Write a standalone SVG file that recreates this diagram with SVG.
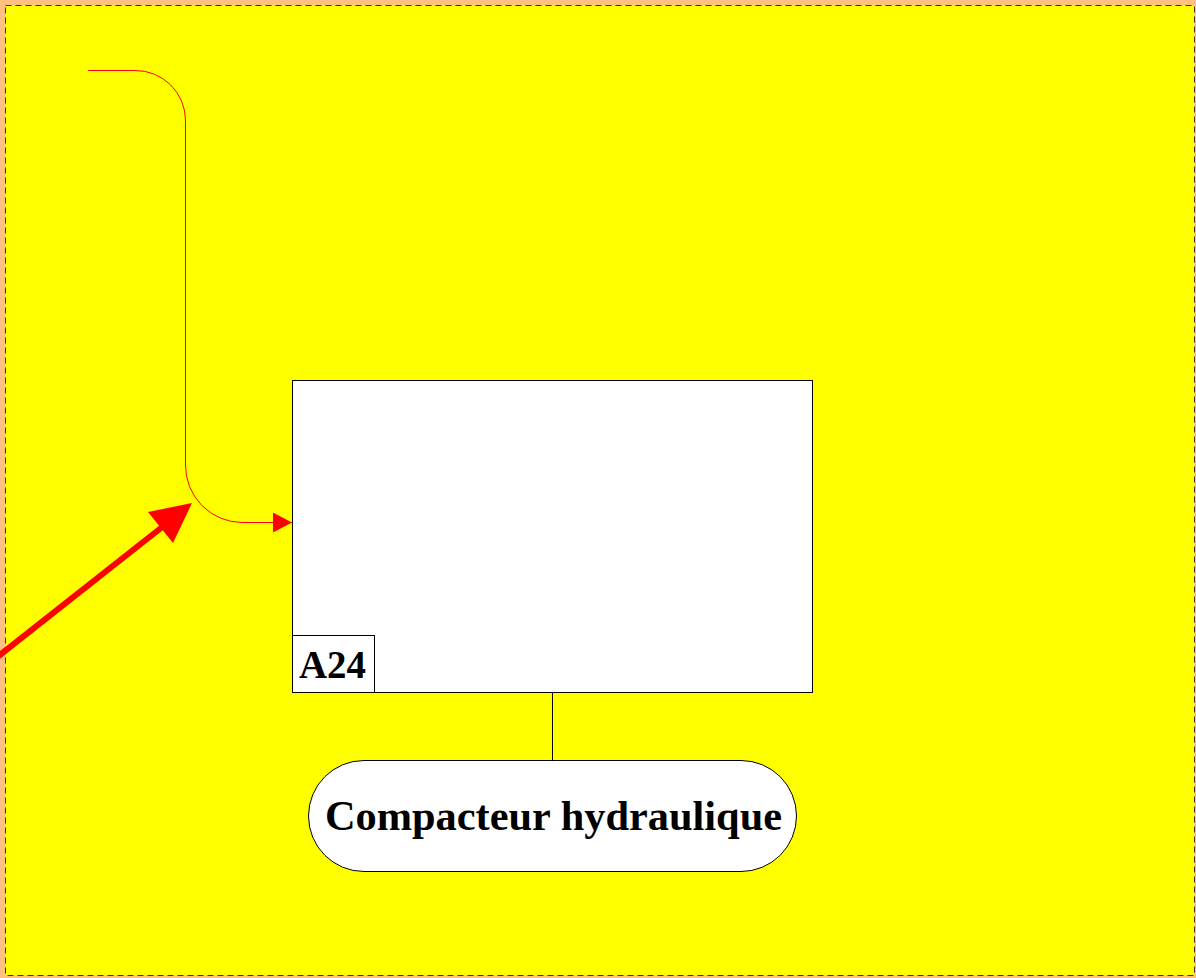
<svg xmlns="http://www.w3.org/2000/svg" width="1196" height="978" viewBox="0 0 1196 978">
<style>
.node{fill:#fff;stroke:#000;stroke-width:1}
.lbl{font-family:"Liberation Serif",serif;font-weight:bold;fill:#000}
</style>
<defs>
<marker id="ah" markerWidth="20" markerHeight="20" refX="19" refY="10" orient="auto" markerUnits="userSpaceOnUse">
<path d="M0,0 L19,10 L0,20 Z" fill="#f00"/>
</marker>
</defs>
<rect x="0" y="0" width="1196" height="978" fill="#ffc080"/>
<rect x="5.5" y="5.5" width="1189" height="970" fill="#ffff00" stroke="#333" stroke-width="1" stroke-dasharray="6,4"/>
<g id="connectors">
<path d="M88,70.5 H135 A50,50 0 0 1 185.5,120 V465 A57,57 0 0 0 242,522.5 H292" fill="none" stroke="#f00" stroke-width="1" marker-end="url(#ah)"/>
<line x1="552.5" y1="692" x2="552.5" y2="760" stroke="#000" stroke-width="1"/>
<line x1="-4" y1="658" x2="166" y2="524" stroke="#f00" stroke-width="6"/>
<polygon points="192,503 148,512 173,543" fill="#f00"/>
</g>
<g id="A24">
<rect class="node" x="292.5" y="380.5" width="520" height="312"/>
<rect class="node" x="292.5" y="635.5" width="82" height="57"/>
<text class="lbl" x="299" y="678" font-size="40" textLength="67" lengthAdjust="spacingAndGlyphs">A24</text>
</g>
<g id="compacteur">
<rect class="node" x="308.5" y="760.5" width="488" height="111" rx="55.5" ry="55.5"/>
<text class="lbl" x="325" y="830" font-size="42" textLength="457" lengthAdjust="spacingAndGlyphs">Compacteur hydraulique</text>
</g>
</svg>
